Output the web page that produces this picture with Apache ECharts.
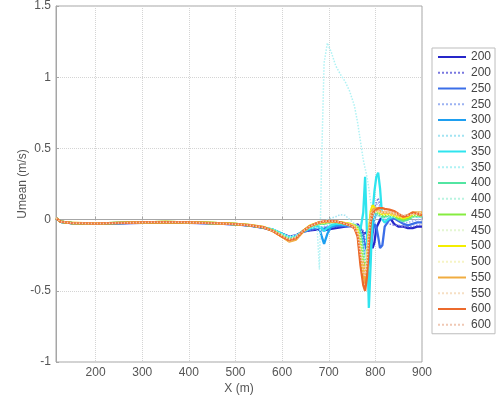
<!DOCTYPE html>
<html>
<head>
<meta charset="utf-8">
<title>Umean profiles</title>
<script src="https://cdn.jsdelivr.net/npm/echarts@6/dist/echarts.min.js"></script>
<style>
  html, body { margin: 0; padding: 0; background: #fff; }
  #chart { width: 497px; height: 400px; }
</style>
</head>
<body>
<div id="chart"></div>
<script>
// Position along the section (m)
const xs = [115,125,150,200,250,300,350,400,450,500,530,560,
  580,600,615,630,645,660,675,680,685,690,697,705,715,725,735,745,755,
  762,768,774,778,782,786,790,794,798,802,806,810,815,820,830,840,850,860,870,880,890,900];

// Mean velocity Umean (m/s) for each case, solid and dotted runs
const u200 = [0.01,-0.016,-0.026,-0.03,-0.026,-0.022,-0.02,-0.022,-0.027,-0.034,-0.042,-0.058,
  -0.075,-0.1,-0.12,-0.11,-0.085,-0.075,-0.07,-0.07,-0.072,-0.075,-0.07,-0.065,-0.06,-0.055,-0.05,-0.045,-0.04,
  -0.035,-0.06,-0.1,-0.11,-0.09,-0.12,-0.17,-0.2,-0.16,-0.06,-0.03,-0.02,0.03,0.04,0.02,-0.03,-0.05,-0.05,-0.06,-0.06,-0.05,-0.05];
const u200d = [0.01,-0.015,-0.025,-0.029,-0.025,-0.021,-0.019,-0.021,-0.026,-0.033,-0.041,-0.056,
  -0.075,-0.105,-0.125,-0.115,-0.09,-0.075,-0.065,-0.06,-0.06,-0.065,-0.06,-0.055,-0.05,-0.045,-0.04,-0.04,-0.035,
  -0.03,-0.05,-0.08,-0.14,-0.15,-0.1,-0.05,0.02,0.08,0.12,0.15,0.1,0.03,-0.02,-0.03,-0.04,-0.04,-0.05,-0.05,-0.05,-0.04,-0.04];
const u250 = [0.01,-0.015,-0.025,-0.028,-0.025,-0.021,-0.019,-0.021,-0.026,-0.033,-0.041,-0.057,
  -0.075,-0.105,-0.125,-0.115,-0.085,-0.07,-0.06,-0.058,-0.058,-0.06,-0.055,-0.05,-0.045,-0.045,-0.045,-0.045,-0.05,
  -0.055,-0.08,-0.12,-0.18,-0.22,-0.25,-0.22,-0.1,-0.03,-0.05,-0.12,-0.2,-0.18,-0.05,0.0,0.01,-0.01,-0.03,-0.04,-0.03,-0.02,-0.02];
const u250d = [0.01,-0.015,-0.025,-0.028,-0.025,-0.021,-0.019,-0.021,-0.026,-0.033,-0.041,-0.056,
  -0.07,-0.1,-0.12,-0.11,-0.08,-0.065,-0.055,-0.05,-0.05,-0.05,-0.045,-0.04,-0.04,-0.04,-0.04,-0.045,-0.05,
  -0.06,-0.1,-0.2,-0.25,-0.2,-0.12,-0.05,0.0,0.05,0.1,0.12,0.08,0.02,0.0,0.01,0.02,0.0,-0.02,-0.02,-0.01,0.0,0.0];
const u300 = [0.01,-0.015,-0.025,-0.028,-0.024,-0.02,-0.018,-0.02,-0.025,-0.032,-0.04,-0.055,
  -0.07,-0.1,-0.125,-0.115,-0.08,-0.06,-0.05,-0.06,-0.12,-0.17,-0.1,-0.05,-0.04,-0.035,-0.035,-0.04,-0.045,
  -0.05,-0.08,-0.2,-0.35,-0.4,-0.3,-0.15,-0.05,0.02,0.04,0.05,0.03,0.02,0.02,0.03,0.03,0.02,0.01,0.02,0.03,0.03,0.02];
const u300d = [0.01,-0.015,-0.025,-0.028,-0.024,-0.02,-0.018,-0.02,-0.025,-0.032,-0.04,-0.055,
  -0.07,-0.1,-0.12,-0.11,-0.08,-0.06,-0.05,-0.06,-0.08,-0.04,0.0,0.01,0.02,0.035,0.03,0.0,-0.03,
  -0.04,-0.06,-0.15,-0.25,-0.2,-0.1,-0.02,0.03,0.04,0.04,0.03,0.02,0.02,0.02,0.03,0.02,0.01,0.01,0.02,0.02,0.02,0.02];
const u350 = [0.01,-0.015,-0.025,-0.028,-0.024,-0.02,-0.018,-0.02,-0.025,-0.032,-0.04,-0.055,
  -0.07,-0.1,-0.125,-0.12,-0.085,-0.06,-0.05,-0.05,-0.06,-0.08,-0.06,-0.04,-0.03,-0.03,-0.035,-0.04,-0.045,
  -0.05,-0.07,0.05,0.3,-0.1,-0.62,-0.3,0.05,0.2,0.3,0.33,0.22,0.0,-0.02,0.01,0.02,0.01,0.02,0.03,0.03,0.02,0.03];
const u350d = [0.01,-0.015,-0.025,-0.028,-0.024,-0.02,-0.018,-0.02,-0.025,-0.032,-0.04,-0.055,
  -0.07,-0.1,-0.12,-0.11,-0.08,-0.06,-0.05,-0.35,0.45,1.1,1.24,1.18,1.08,1.02,0.97,0.9,0.8,
  0.68,0.55,0.42,0.36,0.3,0.22,0.12,0.05,0.0,0.02,0.03,0.03,0.02,0.02,0.03,0.03,0.02,0.02,0.03,0.03,0.03,0.03];
const u400 = [0.01,-0.015,-0.024,-0.027,-0.023,-0.019,-0.017,-0.019,-0.024,-0.031,-0.039,-0.054,
  -0.075,-0.11,-0.135,-0.125,-0.08,-0.05,-0.035,-0.03,-0.03,-0.03,-0.025,-0.02,-0.02,-0.025,-0.03,-0.035,-0.04,
  -0.05,-0.1,-0.25,-0.33,-0.25,-0.1,0.0,0.05,0.06,0.05,0.04,0.03,0.02,0.02,0.03,0.02,0.0,-0.01,0.0,0.02,0.03,0.02];
const u400d = [0.01,-0.015,-0.024,-0.027,-0.023,-0.019,-0.017,-0.019,-0.024,-0.031,-0.039,-0.054,
  -0.07,-0.105,-0.13,-0.12,-0.08,-0.05,-0.035,-0.03,-0.03,-0.03,-0.025,-0.02,-0.02,-0.02,-0.025,-0.03,-0.04,
  -0.05,-0.12,-0.22,-0.28,-0.2,-0.08,0.0,0.03,0.04,0.03,0.03,0.02,0.01,0.01,0.02,0.02,0.01,0.0,0.01,0.02,0.02,0.02];
const u450 = [0.01,-0.015,-0.024,-0.027,-0.023,-0.019,-0.017,-0.019,-0.024,-0.031,-0.039,-0.054,
  -0.075,-0.115,-0.14,-0.13,-0.08,-0.045,-0.03,-0.025,-0.025,-0.025,-0.02,-0.015,-0.015,-0.02,-0.025,-0.03,-0.04,
  -0.06,-0.15,-0.3,-0.37,-0.3,-0.12,0.02,0.08,0.08,0.06,0.05,0.04,0.03,0.03,0.04,0.03,0.01,0.0,0.01,0.03,0.03,0.03];
const u450d = [0.01,-0.015,-0.024,-0.027,-0.023,-0.019,-0.017,-0.019,-0.024,-0.031,-0.039,-0.054,
  -0.075,-0.11,-0.135,-0.125,-0.08,-0.045,-0.03,-0.025,-0.025,-0.025,-0.02,-0.015,-0.015,-0.02,-0.025,-0.03,-0.04,
  -0.06,-0.13,-0.25,-0.3,-0.22,-0.08,0.02,0.06,0.06,0.05,0.04,0.03,0.03,0.03,0.03,0.03,0.02,0.01,0.02,0.03,0.03,0.03];
const u500 = [0.01,-0.014,-0.024,-0.027,-0.023,-0.019,-0.017,-0.019,-0.024,-0.031,-0.039,-0.053,
  -0.08,-0.12,-0.15,-0.135,-0.08,-0.04,-0.025,-0.02,-0.02,-0.02,-0.015,-0.012,-0.015,-0.02,-0.025,-0.03,-0.045,
  -0.08,-0.25,-0.4,-0.42,-0.3,-0.08,0.06,0.1,0.09,0.07,0.06,0.05,0.04,0.04,0.04,0.03,0.02,0.01,0.02,0.04,0.04,0.04];
const u500d = [0.01,-0.014,-0.024,-0.027,-0.023,-0.019,-0.017,-0.019,-0.024,-0.031,-0.039,-0.053,
  -0.08,-0.115,-0.145,-0.13,-0.08,-0.04,-0.025,-0.02,-0.02,-0.02,-0.015,-0.012,-0.015,-0.02,-0.025,-0.03,-0.045,
  -0.07,-0.2,-0.33,-0.35,-0.25,-0.06,0.05,0.08,0.08,0.06,0.05,0.05,0.04,0.04,0.04,0.03,0.02,0.02,0.03,0.04,0.04,0.04];
const u550 = [0.01,-0.014,-0.024,-0.027,-0.023,-0.019,-0.017,-0.019,-0.024,-0.031,-0.038,-0.052,
  -0.08,-0.12,-0.155,-0.14,-0.085,-0.045,-0.025,-0.02,-0.018,-0.016,-0.014,-0.012,-0.015,-0.02,-0.028,-0.035,-0.05,
  -0.1,-0.28,-0.3,-0.45,-0.35,-0.12,0.03,0.07,0.08,0.08,0.07,0.06,0.05,0.05,0.05,0.04,0.03,0.02,0.03,0.05,0.05,0.05];
const u550d = [0.01,-0.014,-0.024,-0.027,-0.023,-0.019,-0.017,-0.019,-0.024,-0.031,-0.038,-0.052,
  -0.08,-0.12,-0.15,-0.135,-0.08,-0.045,-0.025,-0.02,-0.018,-0.016,-0.014,-0.012,-0.015,-0.02,-0.028,-0.035,-0.05,
  -0.09,-0.22,-0.3,-0.38,-0.28,-0.1,0.02,0.06,0.07,0.07,0.06,0.05,0.05,0.05,0.05,0.04,0.03,0.03,0.04,0.04,0.05,0.05];
const u600 = [0.01,-0.015,-0.025,-0.028,-0.024,-0.02,-0.018,-0.02,-0.025,-0.032,-0.04,-0.055,
  -0.08,-0.12,-0.145,-0.13,-0.08,-0.045,-0.025,-0.02,-0.015,-0.012,-0.01,-0.01,-0.012,-0.02,-0.03,-0.04,-0.06,
  -0.12,-0.32,-0.46,-0.5,-0.4,-0.18,-0.02,0.04,0.06,0.07,0.08,0.085,0.08,0.075,0.07,0.06,0.04,0.02,0.03,0.05,0.04,0.03];
const u600d = [0.01,-0.015,-0.025,-0.028,-0.024,-0.02,-0.018,-0.02,-0.025,-0.032,-0.04,-0.055,
  -0.08,-0.115,-0.14,-0.125,-0.08,-0.045,-0.025,-0.02,-0.015,-0.012,-0.01,-0.01,-0.012,-0.02,-0.03,-0.04,-0.06,
  -0.1,-0.25,-0.38,-0.4,-0.3,-0.12,0.0,0.04,0.05,0.06,0.06,0.06,0.06,0.06,0.05,0.05,0.04,0.03,0.03,0.04,0.04,0.04];

// Legend labels and line colours (jet-like ramp, dotted runs in paler tints)
const caseLabels = ['200','200','250','250','300','300','350','350','400','400','450','450','500','500','550','550','600','600'];
const caseValues = [u200,u200d,u250,u250d,u300,u300d,u350,u350d,u400,u400d,u450,u450d,u500,u500d,u550,u550d,u600,u600d];
const caseColors = ['#2626c9','#7a78e0','#3b6ee8','#9cb2f2','#1e9ff0','#a2e4f2','#2fe4ee','#aef2f4',
                    '#52e5a2','#b8f4e0','#86ec40','#e4f6d2','#f4ee00','#f6f4c4','#f0ac40','#f6dfc4','#ec6a2c','#f0c8b4'];

const series = caseValues.map((vals, i) => {
  const dotted = i % 2 === 1;
  return {
    name: caseLabels[i] + (dotted ? '|dotted' : '|solid'),
    type: 'line',
    data: xs.map((x, k) => [x, vals[k]]),
    symbol: 'none',
    smooth: false,
    animation: false,
    lineStyle: {
      color: caseColors[i],
      width: dotted ? 1.5 : 2.3,
      type: dotted ? 'dotted' : 'solid'
    },
    itemStyle: { color: caseColors[i] }
  };
});

const font = 'Liberation Sans, Arial, Helvetica, sans-serif';
const chart = echarts.init(document.getElementById('chart'), null, { renderer: 'canvas' });
chart.setOption({
  backgroundColor: '#fff',
  animation: false,
  textStyle: { fontFamily: font },
  grid: {
    left: 56, right: 75, top: 6, bottom: 35,
    show: true, borderColor: '#a6a6a6', borderWidth: 1
  },
  legend: {
    orient: 'vertical',
    left: 432, top: 48,
    itemWidth: 28, itemHeight: 12, itemGap: 3.75,
    padding: [3, 4, 3, 5],
    borderColor: '#bdbdbd', borderWidth: 1,
    backgroundColor: '#fff',
    // keep only the line sample in each key, no marker dot
    itemStyle: { opacity: 0 },
    textStyle: { fontSize: 12, color: '#444', fontFamily: font },
    formatter: name => name.split('|')[0],
    data: series.map(s => s.name)
  },
  xAxis: {
    type: 'value',
    min: 115, max: 900,
    splitNumber: 8, minInterval: 100, maxInterval: 100,
    name: 'X (m)', nameLocation: 'middle', nameGap: 21, nameMoveOverlap: false,
    nameTextStyle: { fontSize: 12, color: '#555', fontFamily: font },
    axisLine: { show: true, lineStyle: { color: '#a6a6a6' } },
    axisTick: { show: true, inside: true, length: 3, lineStyle: { color: '#a6a6a6' } },
    axisLabel: {
      fontSize: 12, color: '#555', margin: 5, showMinLabel: false,
      formatter: v => (v % 100 === 0 ? String(v) : '')
    },
    splitLine: { show: true, lineStyle: { color: '#d4d4d4', type: 'dotted', width: 1 } }
  },
  yAxis: {
    type: 'value',
    min: -1, max: 1.5, interval: 0.5,
    name: 'Umean (m/s)', nameLocation: 'middle', nameGap: 27, nameMoveOverlap: false,
    nameTextStyle: { fontSize: 12, color: '#555', fontFamily: font },
    axisLine: { show: true, lineStyle: { color: '#a6a6a6' } },
    axisTick: { show: true, inside: true, length: 3, lineStyle: { color: '#a6a6a6' } },
    axisLabel: { fontSize: 12, color: '#555', margin: 5 },
    splitLine: { show: true, lineStyle: { color: '#d4d4d4', type: 'dotted', width: 1 } }
  },
  series: series
});
</script>
</body>
</html>
